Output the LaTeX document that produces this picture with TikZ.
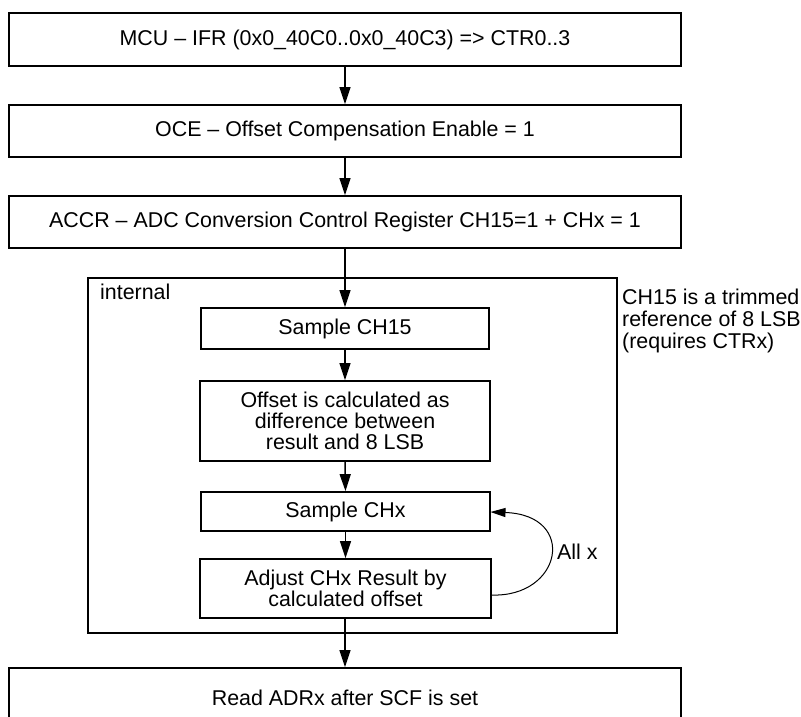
\documentclass[tikz,border=0pt]{standalone}
\usepackage{fontspec}
\setmainfont{Liberation Sans}
\usetikzlibrary{arrows.meta}
\begin{document}
\begin{tikzpicture}[x=1pt,y=-1pt,
  box/.style={draw,line width=1.8pt,rectangle,inner sep=0pt,align=center,font=\fontsize{21.4}{21}\selectfont},
  flow/.style={line width=1.5pt,-{Triangle[length=17pt,width=11pt]}},
  loop/.style={line width=1pt,-{Triangle[length=15pt,width=9pt]}},
  lbl/.style={inner sep=0pt,font=\fontsize{21.4}{22}\selectfont}]
\path[use as bounding box,clip] (0,0) rectangle (801,717);
\fill[white] (0,0) rectangle (801,717);
% internal frame
\node[draw,line width=1.8pt,minimum width=529pt,minimum height=355pt,inner sep=0pt] (int) at (352.5,455.5) {};
\node[lbl,anchor=west] (intl) at (100,292) {internal};
% boxes
\node[box,minimum width=672pt,minimum height=53pt] (b1) at (345,39.5) {MCU -- IFR (0x0\_40C0..0x0\_40C3) => CTR0..3};
\node[box,minimum width=672pt,minimum height=52pt] (b2) at (345,131) {OCE -- Offset Compensation Enable = 1};
\node[box,minimum width=672pt,minimum height=52pt] (b3) at (345,222) {ACCR -- ADC Conversion Control Register CH15=1 + CHx = 1};
\node[box,minimum width=288pt,minimum height=41pt] (s15) at (345,328.5) {Sample CH15};
\node[box,minimum width=290pt,minimum height=80pt] (off) at (345,421) {Offset is calculated as\\difference between\\result and 8 LSB};
\node[box,minimum width=289pt,minimum height=39pt] (sx) at (345.5,511.5) {Sample CHx};
\node[box,minimum width=291pt,minimum height=59pt] (adj) at (345.5,588.5) {Adjust CHx Result by\\calculated offset};
\node[draw,line width=1.8pt,minimum width=672pt,minimum height=70pt,inner sep=0pt] (b4) at (345,703) {};
\node[lbl] (b4t) at (345,698) {Read ADRx after SCF is set};
% side note
\node[lbl,anchor=north west,align=left] (note) at (622,289) {CH15 is a trimmed\\reference of 8 LSB\\(requires CTRx)};
% connectors
\draw[flow] (b1.south) -- (b2.north);
\draw[flow] (b2.south) -- (b3.north);
\draw[flow] (b3.south) -- (s15.north);
\draw[flow] (s15.south) -- (off.north);
\draw[flow] (off.south) -- (sx.north);
\draw[flow] (sx.south) -- (adj.north);
\draw[flow] (adj.south -| b4.north) -- (b4.north);
\coordinate (ls) at (491,595);
\coordinate (le) at (490.5,512);
\draw[loop] (ls) .. controls (562,598) and (578,515) .. (le);
\node[lbl,anchor=west] (allx) at (557,552) {All x};
\end{tikzpicture}
\end{document}
